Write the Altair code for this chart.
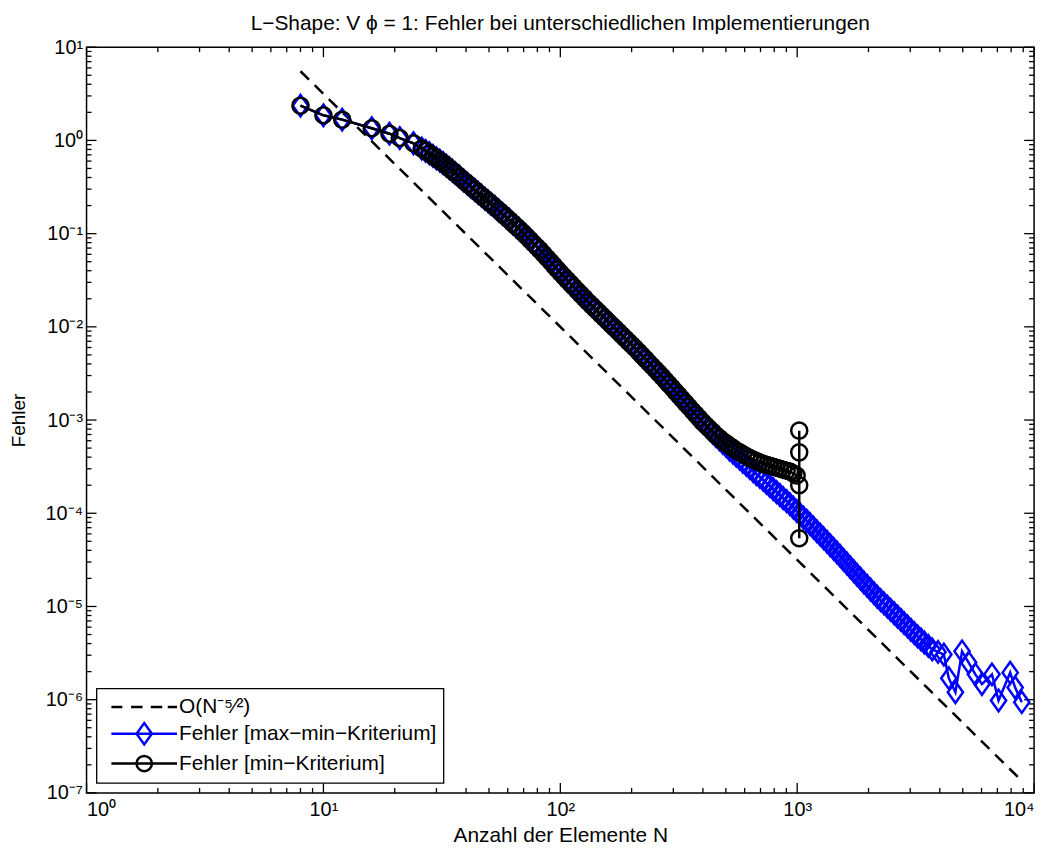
import altair as alt
import pandas as pd

# ---------------- data ----------------
shared_N = [8, 10, 12, 16, 19, 21, 24,
            26, 27, 28, 29, 30, 31, 32, 33, 34, 35, 36,
            37.5, 39, 40.5, 42, 43.5, 45, 46.5, 48, 49.5, 51,
            53, 55, 57, 59, 61, 63, 65, 67,
            69.5, 72, 74.5, 77, 79.5, 82, 85, 88, 91, 94, 97, 100,
            103.5, 107, 110.5, 114, 118, 122, 126.5, 131, 135.5, 140,
            144.5, 149, 154, 159, 164.5, 170, 176, 182, 188, 194,
            200.5, 207, 214, 221, 228.5, 236, 244, 252, 260.5, 269,
            278, 287, 296.5, 306, 316.5, 327, 338, 349, 361, 373, 385.5, 398]
shared_err = [2.36, 1.86, 1.67, 1.35, 1.18, 1.06, 0.932,
              0.818, 0.772, 0.728, 0.683, 0.641, 0.606, 0.572, 0.536, 0.503, 0.474, 0.446,
              0.408, 0.373, 0.344, 0.318, 0.295, 0.273, 0.255, 0.238, 0.223, 0.209,
              0.192, 0.177, 0.163, 0.151, 0.140, 0.129, 0.120, 0.112,
              0.1024, 0.0937, 0.0857, 0.0783, 0.0724, 0.0669, 0.0605, 0.0548, 0.0499, 0.0454,
              0.0415, 0.0380,
              0.0347, 0.0317, 0.0291, 0.0268, 0.0244, 0.0223, 0.0203, 0.0185, 0.0170, 0.01566,
              0.01449, 0.0134, 0.01235, 0.01139, 0.01048, 0.00964, 0.00885, 0.00813, 0.00751,
              0.00693,
              0.00639, 0.00589, 0.00539, 0.00494, 0.00453, 0.00415, 0.00380, 0.00348, 0.00319,
              0.00292,
              0.00266, 0.00243, 0.00222, 0.00202, 0.00184, 0.00167, 0.00152, 0.00139, 0.00126,
              0.00115, 0.001048, 9.55e-4]

blue_tail_N = [411.5, 425, 439.5, 454, 469.5, 485, 501.5, 518, 535.5, 553,
               571.5, 590, 610, 630, 651.5, 673,
               695.5, 718, 742, 766, 792, 818, 845.5, 873, 902.5, 932,
               963.5, 995, 1028, 1062, 1098, 1134, 1172, 1210, 1251, 1292,
               1335.5, 1379, 1425.5, 1472, 1521.5, 1571, 1624, 1677, 1733.5, 1790,
               1850.5, 1911, 1975.5, 2040, 2109, 2178, 2251.5, 2325, 2403.5, 2482,
               2566, 2650, 2739.5, 2829, 2924.5, 3020, 3122, 3224, 3333, 3442,
               3578.5, 3715, 3930, 4160,
               4365, 4655, 4965, 5295, 5650, 6025, 6640, 7080, 7925, 8320, 8870]
blue_tail_err = [8.75e-4, 8.02e-4, 7.34e-4, 6.72e-4, 6.19e-4, 5.70e-4, 5.25e-4, 4.83e-4,
                 4.48e-4, 4.15e-4,
                 3.85e-4, 3.57e-4, 3.31e-4, 3.07e-4, 2.84e-4, 2.63e-4,
                 2.45e-4, 2.29e-4, 2.12e-4, 1.97e-4, 1.82e-4, 1.69e-4, 1.57e-4, 1.45e-4,
                 1.35e-4, 1.25e-4,
                 1.15e-4, 1.06e-4, 9.77e-5, 9.0e-5, 8.30e-5, 7.65e-5, 7.01e-5, 6.43e-5,
                 5.89e-5, 5.40e-5,
                 4.95e-5, 4.53e-5, 4.15e-5, 3.80e-5, 3.47e-5, 3.16e-5, 2.88e-5, 2.62e-5,
                 2.39e-5, 2.18e-5,
                 1.99e-5, 1.81e-5, 1.66e-5, 1.52e-5, 1.39e-5, 1.27e-5, 1.17e-5, 1.08e-5,
                 9.96e-6, 9.18e-6,
                 8.46e-6, 7.80e-6, 7.19e-6, 6.62e-6, 6.10e-6, 5.62e-6, 5.18e-6, 4.78e-6,
                 4.43e-6, 4.10e-6,
                 3.77e-6, 3.46e-6, 3.25e-6, 3.05e-6,
                 1.7e-6, 1.2e-6, 3.3e-6, 2.5e-6, 1.87e-6, 1.47e-6, 1.87e-6, 9.8e-7, 1.95e-6,
                 1.35e-6, 9.4e-7]

black_tail_N = [411.5, 425, 439.5, 454, 469.5, 485, 501.5, 518, 535.5, 553,
                571.5, 590, 610, 630, 651.5, 673,
                695.5, 718, 742, 766, 792, 818, 845.5, 873, 902.5, 932,
                963.5, 995, 1020, 1020, 1020, 1020]
black_tail_err = [8.80e-4, 8.11e-4, 7.47e-4, 6.88e-4, 6.41e-4, 5.97e-4, 5.62e-4, 5.30e-4,
                  5.00e-4, 4.71e-4,
                  4.50e-4, 4.30e-4, 4.10e-4, 3.91e-4, 3.77e-4, 3.63e-4,
                  3.51e-4, 3.39e-4, 3.31e-4, 3.23e-4, 3.15e-4, 3.08e-4, 3.00e-4, 2.93e-4,
                  2.86e-4, 2.80e-4,
                  2.67e-4, 2.54e-4, 2.0e-4, 5.4e-5, 7.7e-4, 4.5e-4]

ref_N = [8, 8870]
ref_err = [5.52, 1.35e-7]

series_names = ["O(N\u207b\u2075\u2044\u00b2)", "Fehler [max\u2212min\u2212Kriterium]",
                "Fehler [min\u2212Kriterium]"]
series_colors = ["#000000", "#0000ff", "#000000"]

title_text = "L\u2212Shape: V \u03d5 = 1: Fehler bei unterschiedlichen Implementierungen"

x_major = [1, 10, 100, 1000, 10000]
x_exps = [0, 1, 2, 3, 4]
y_major = [1e-7, 1e-6, 1e-5, 1e-4, 1e-3, 1e-2, 1e-1, 1, 10]
y_exps = [-7, -6, -5, -4, -3, -2, -1, 0, 1]
x_minor = [m * 10 ** k for k in range(0, 4) for m in range(2, 10)]
y_minor = [m * 10.0 ** k for k in range(-7, 1) for m in range(2, 10)]

# ---------------- styling ----------------
W, H = 953, 750
FONT = "Liberation Sans, Arial, Helvetica, sans-serif"
MAJ, MIN_ = 10, 5

SUP = str.maketrans("-0123456789", "\u207b\u2070\u00b9\u00b2\u00b3\u2074\u2075\u2076\u2077\u2078\u2079")


def sup_expr(exps):
    parts = [f"round(log(datum.value)/LN10)=={e} ? '10{str(e).translate(SUP)}'" for e in exps]
    return " : ".join(parts) + " : ''"


xs = alt.Scale(type="log", domain=[1, 10000], nice=False)
ys = alt.Scale(type="log", domain=[1e-7, 10], nice=False)

x_axis = alt.Axis(values=x_major, labelExpr=sup_expr(x_exps), title="Anzahl der Elemente N",
                  labelPadding=7, labelFontSize=20, titleFontSize=21, titleX=W / 2,
                  titleY=48.5, titleBaseline="alphabetic", titleAlign="center")
y_axis = alt.Axis(values=y_major, labelExpr=sup_expr(y_exps), title="Fehler",
                  labelPadding=4, labelFontSize=20, titleFontSize=19, titleX=-68,
                  titleY=H / 2, titleAngle=270, titleBaseline="middle", titleAlign="center")


def X(field):
    return alt.X(f"{field}:Q", scale=xs, axis=x_axis)


def Y(field):
    return alt.Y(f"{field}:Q", scale=ys, axis=y_axis)


blue = pd.DataFrame({"N": shared_N + blue_tail_N, "err": shared_err + blue_tail_err})
blue["i"] = range(len(blue))
black = pd.DataFrame({"N": shared_N + black_tail_N, "err": shared_err + black_tail_err})
black["i"] = range(len(black))
ref = pd.DataFrame({"N": ref_N, "err": ref_err})

# ---------------- inward ticks on all four sides ----------------
tick_layers = []
for vals, L in [(x_major, MAJ), (x_minor, MIN_)]:
    d = pd.DataFrame({"N": vals})
    tick_layers.append(alt.Chart(d).mark_rule(color="black", strokeWidth=1.3).encode(
        x=X("N"), y=alt.value(H), y2=alt.value(H - L)))
    tick_layers.append(alt.Chart(d).mark_rule(color="black", strokeWidth=1.3).encode(
        x=X("N"), y=alt.value(0), y2=alt.value(L)))
for vals, L in [(y_major, MAJ), (y_minor, MIN_)]:
    d = pd.DataFrame({"err": vals})
    tick_layers.append(alt.Chart(d).mark_rule(color="black", strokeWidth=1.3).encode(
        y=Y("err"), x=alt.value(0), x2=alt.value(L)))
    tick_layers.append(alt.Chart(d).mark_rule(color="black", strokeWidth=1.3).encode(
        y=Y("err"), x=alt.value(W), x2=alt.value(W - L)))

# ---------------- series ----------------
ref_line = alt.Chart(ref).mark_line(color="black", strokeWidth=2.5, strokeDash=[12, 8]).encode(
    x=X("N"), y=Y("err"))

diamond = "M0,-1.2L0.85,0L0,1.2L-0.85,0Z"
blue_line = alt.Chart(blue).mark_line(color="#0000ff", strokeWidth=2.5).encode(
    x=X("N"), y=Y("err"), order="i:Q")
blue_pts = alt.Chart(blue).mark_point(shape=diamond, size=324, filled=False, strokeWidth=2.5,
                                      color="#0000ff", opacity=1).encode(x=X("N"), y=Y("err"))

black_line = alt.Chart(black).mark_line(color="black", strokeWidth=2.5).encode(
    x=X("N"), y=Y("err"), order="i:Q")
black_pts = alt.Chart(black).mark_point(shape="circle", size=260, filled=False, strokeWidth=2.5,
                                        color="black", opacity=1).encode(x=X("N"), y=Y("err"))

# ---------------- legend (drawn by Vega from an invisible layer) ----------------
legend_paths = [
    "M-3,0H-2M-1.2,0H-0.15M0.6,0H1.65M2.15,0H3",
    "M-3,0H3M0,-0.98L0.7,0L0,0.98L-0.7,0Z",
    "M-3,0H3M0.7,0A0.7,0.7,0,1,1,-0.7,0A0.7,0.7,0,1,1,0.7,0Z",
]
leg_df = pd.DataFrame({"s": series_names, "N": [8, 8, 8], "err": [1.0, 1.0, 1.0], "o": [0, 0, 0]})
legend_layer = alt.Chart(leg_df).mark_point(filled=False, strokeWidth=2.5).encode(
    x=X("N"), y=Y("err"),
    color=alt.Color("s:N", scale=alt.Scale(domain=series_names, range=series_colors),
                    legend=alt.Legend(title=None)),
    shape=alt.Shape("s:N", scale=alt.Scale(domain=series_names, range=legend_paths),
                    legend=alt.Legend(title=None)),
    opacity=alt.Opacity("o:Q", scale=None, legend=None),
)

# ---------------- chart title (text above the plot frame) ----------------
title_layer = alt.Chart(pd.DataFrame({"t": [title_text]})).mark_text(
    font=FONT, fontSize=21, color="black", align="center", baseline="alphabetic"
).encode(x=alt.value(W / 2), y=alt.value(-17), text="t:N")

chart = alt.layer(
    *tick_layers, ref_line, blue_line, blue_pts, black_line, black_pts, legend_layer,
    title_layer
).properties(
    width=W, height=H,
    autosize=alt.AutoSizeParams(type="none"),
    padding={"left": 79, "top": 37, "right": 14, "bottom": 53},
).configure_view(
    stroke="black", strokeWidth=1.5
).configure_axis(
    labelFont=FONT, labelColor="black",
    titleFont=FONT, titleFontWeight="normal", titleColor="black",
    grid=False, ticks=False, domain=False,
).configure_legend(
    orient="bottom-left", offset=10, padding=6, strokeColor="black",
    fillColor="white", strokeWidth=1.3, symbolSize=484, symbolStrokeWidth=2.5,
    symbolOffset=29.5, labelOffset=22.5, labelFont=FONT, labelFontSize=21,
    labelColor="black", labelLimit=500, rowPadding=0, symbolOpacity=1,
)

chart.save("out.html", embed_options={"renderer": "svg", "actions": False})
